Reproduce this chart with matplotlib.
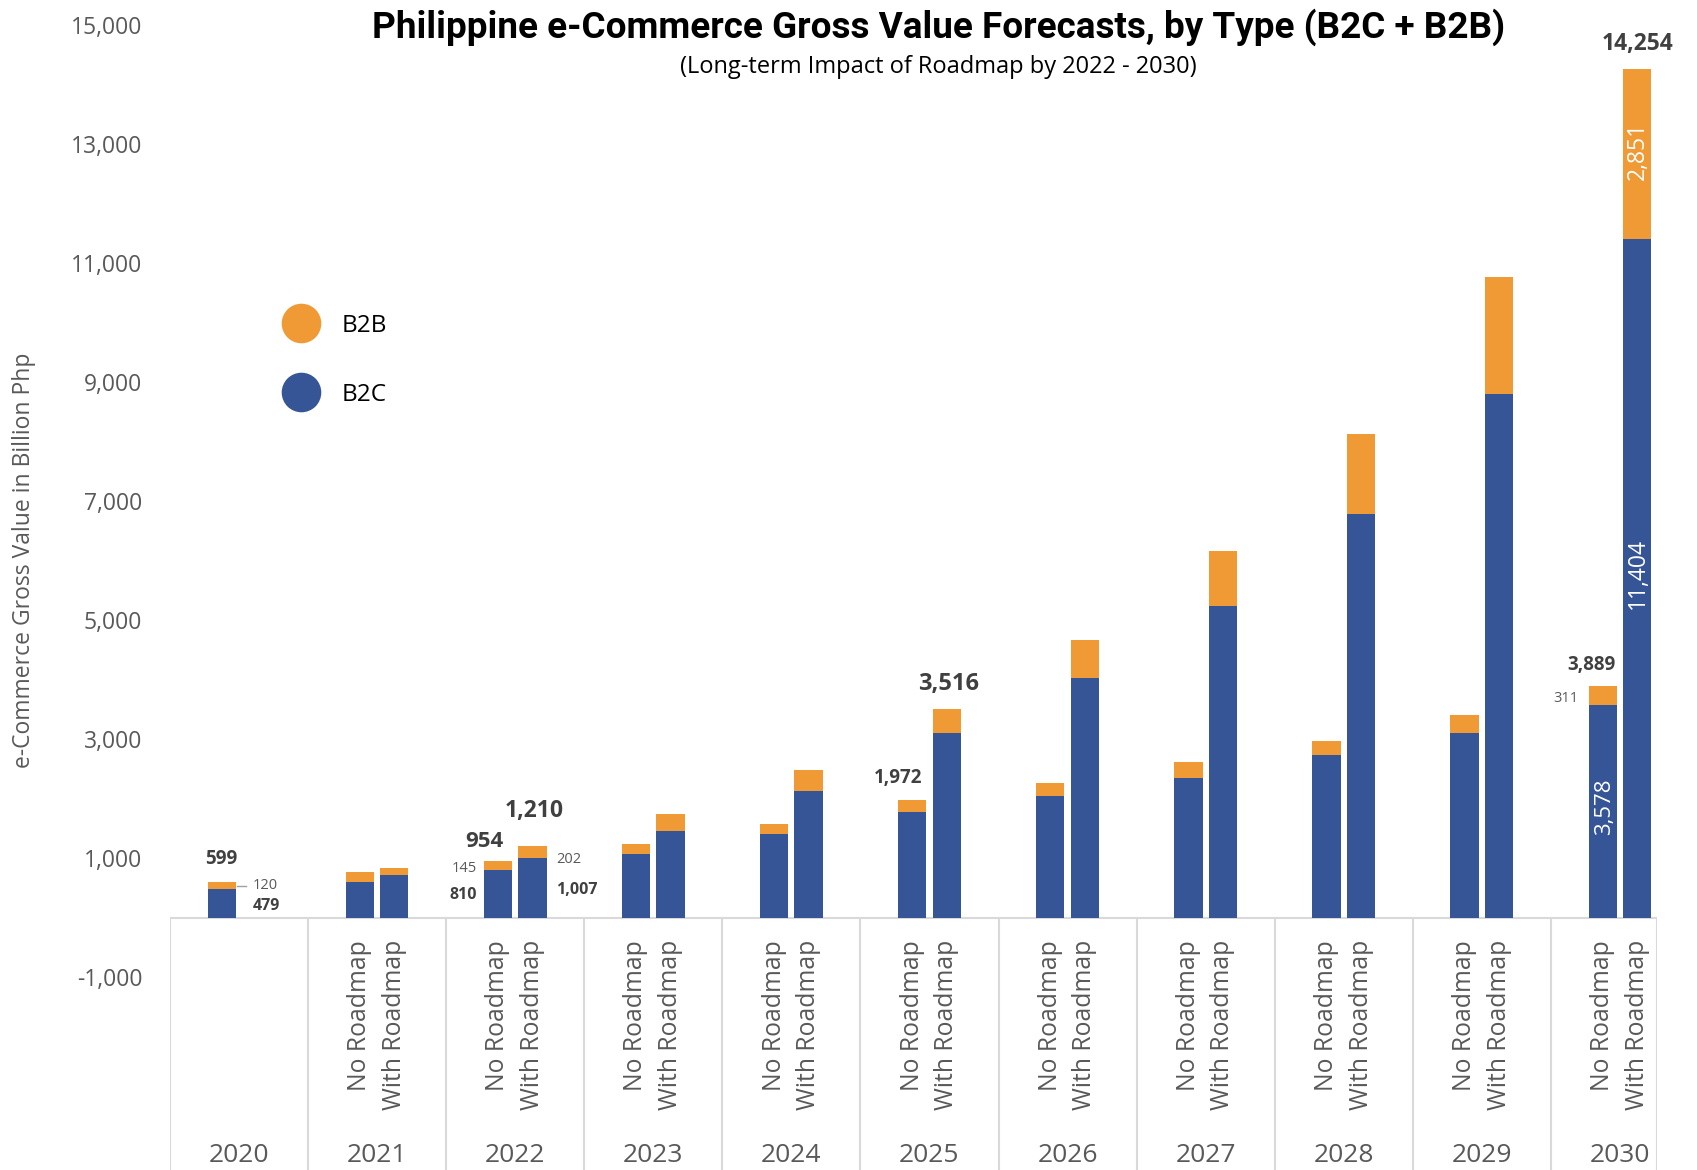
import matplotlib
matplotlib.use("Agg")
import matplotlib.pyplot as plt
from matplotlib.lines import Line2D

years = ["2020", "2021", "2022", "2023", "2024", "2025", "2026", "2027", "2028", "2029", "2030"]
scenarios = ["No Roadmap", "With Roadmap"]
# 2020 has only one (actual) bar
b2c_no = [479, 610, 810, 1075, 1405, 1775, 2040, 2355, 2735, 3100, 3578]
b2b_no = [120, 165, 145, 165, 165, 197, 217, 262, 235, 310, 311]
b2c_with = [None, 720, 1007, 1460, 2135, 3100, 4030, 5240, 6780, 8800, 11404]
b2b_with = [None, 125, 202, 290, 345, 416, 645, 920, 1345, 1965, 2851]
# totals as printed on the chart (rounded in the source)
total_no_printed = {0: 599, 2: 954, 5: 1972, 10: 3889}
total_with_printed = {2: 1210, 5: 3516, 10: 14254}
yticks = list(range(-1000, 15001, 2000))

ORANGE = "#F09A36"
BLUE = "#365597"
GRAY = "#595959"
DARK = "#404040"
LINE = "#D9D9D9"
FONT = "Open Sans"

fig = plt.figure(figsize=(16.97, 11.70), dpi=100)
ax = fig.add_axes([157 / 1568, 0.0, (1531 - 157) / 1568, 1.0])
ax.set_xlim(-0.5, 10.268)
ax.set_ylim(-4236, 15418)
for s in ax.spines.values():
    s.set_visible(False)

off = 0.125
w = 0.205
for i in range(len(years)):
    xn = i - off
    ax.bar(xn, b2c_no[i], width=w, color=BLUE, zorder=3)
    ax.bar(xn, b2b_no[i], width=w, bottom=b2c_no[i], color=ORANGE, zorder=3)
    if b2c_with[i] is not None:
        xw = i + off
        ax.bar(xw, b2c_with[i], width=w, color=BLUE, zorder=3)
        ax.bar(xw, b2b_with[i], width=w, bottom=b2c_with[i], color=ORANGE, zorder=3)

# baseline and category separators
ax.axhline(0, color=LINE, lw=1.5, zorder=2)
ymin = ax.get_ylim()[0]
seps = [k - 0.5 for k in range(len(years))] + [ax.get_xlim()[1]]
ax.vlines(seps, ymin, 0, color=LINE, lw=1.5, zorder=2)

# y ticks
ax.set_yticks(yticks)
ax.set_yticklabels([f"{v:,}" for v in yticks])
ax.tick_params(axis="y", length=0, pad=20, labelsize=16.5, labelcolor=GRAY)
for t in ax.get_yticklabels():
    t.set_fontfamily(FONT)
ax.set_xticks([])

# category labels
for i, y in enumerate(years):
    ax.text(i, -3985, y, ha="center", va="center", fontsize=19, color=GRAY, family=FONT)
    if i > 0:
        ax.text(i - off, -370, scenarios[0], rotation=90, ha="center", va="top",
                fontsize=17.8, color=GRAY, family=FONT)
        ax.text(i + off, -370, scenarios[1], rotation=90, ha="center", va="top",
                fontsize=17.8, color=GRAY, family=FONT)

# y label
ax.text(-1.558, 6000, "e-Commerce Gross Value in Billion Php", rotation=90, ha="center",
        va="center", fontsize=16.5, color=GRAY, family=FONT)

# 2020 annotations
t0 = total_no_printed[0]
ax.text(0 - off, t0 + 390, f"{t0:,}", ha="center", va="center", fontsize=13.5,
        fontweight="bold", color=DARK, family=FONT)
ax.plot([0 - off + w / 2 + 0.01, 0 - off + w / 2 + 0.07], [b2c_no[0] + b2b_no[0] / 2] * 2,
        color="#A0A0A0", lw=1)
ax.text(0.1, b2c_no[0] + b2b_no[0] / 2, f"{b2b_no[0]:,}", ha="left", va="center",
        fontsize=10.5, color=GRAY, family=FONT)
ax.text(0.1, b2c_no[0] - 280, f"{b2c_no[0]:,}", ha="left", va="center",
        fontsize=11.5, fontweight="bold", color=DARK, family=FONT)

# 2022 annotations
i = 2
tn = total_no_printed[i]
tw = total_with_printed[i]
ax.text(i - off - 0.1, tn + 335, f"{tn:,}", ha="center", va="center", fontsize=16,
        fontweight="bold", color=DARK, family=FONT)
ax.text(i - off - w / 2 - 0.05, tn - 120, f"{b2b_no[i]:,}", ha="right", va="center",
        fontsize=10.5, color=GRAY, family=FONT)
ax.text(i - off - w / 2 - 0.05, b2c_no[i] - 430, f"{b2c_no[i]:,}", ha="right", va="center",
        fontsize=11.5, fontweight="bold", color=DARK, family=FONT)
ax.text(i + off + 0.015, tw + 590, f"{tw:,}", ha="center", va="center", fontsize=16.5,
        fontweight="bold", color=DARK, family=FONT)
ax.text(i + off + w / 2 + 0.07, tw - 228, f"{b2b_with[i]:,}", ha="left", va="center",
        fontsize=10.5, color=GRAY, family=FONT)
ax.text(i + off + w / 2 + 0.07, b2c_with[i] - 534, f"{b2c_with[i]:,}", ha="left", va="center",
        fontsize=11.5, fontweight="bold", color=DARK, family=FONT)

# 2025 annotations
i = 5
tn = total_no_printed[i]
tw = total_with_printed[i]
ax.text(i - off - 0.1, tn + 373, f"{tn:,}", ha="center", va="center", fontsize=13.5,
        fontweight="bold", color=DARK, family=FONT)
ax.text(i + off + 0.01, tw + 411, f"{tw:,}", ha="center", va="center", fontsize=17,
        fontweight="bold", color=DARK, family=FONT)

# 2030 annotations
i = 10
tn = total_no_printed[i]
tw = total_with_printed[i]
ax.text(i - off - 0.08, tn + 366, f"{tn:,}", ha="center", va="center", fontsize=13.5,
        fontweight="bold", color=DARK, family=FONT)
ax.text(i - off - w / 2 - 0.07, b2c_no[i] + 112, f"{b2b_no[i]:,}", ha="right", va="center",
        fontsize=10.5, color=GRAY, family=FONT)
ax.text(i - off + 0.01, 1873, f"{b2c_no[i]:,}", rotation=90, ha="center", va="center",
        fontsize=16, color="white", family=FONT, zorder=4)
ax.text(i + off + 0.005, 5782, f"{b2c_with[i]:,}", rotation=90, ha="center", va="center",
        fontsize=16.5, color="white", family=FONT, zorder=4)
ax.text(i + off + 0.005, b2c_with[i] + b2b_with[i] / 2 + 45, f"{b2b_with[i]:,}", rotation=90,
        ha="center", va="center", fontsize=16.5, color="white", family=FONT, zorder=4)
ax.text(i + off, tw + 420, f"{tw:,}", ha="center", va="center", fontsize=16.5,
        fontweight="bold", color=DARK, family=FONT)

# title
fig.text(0.553, 1 - 25 / 1081, "Philippine e-Commerce Gross Value Forecasts, by Type (B2C + B2B)",
         ha="center", va="center", fontsize=26.6, fontweight="bold", color="black", family="Roboto")
fig.text(0.553, 1 - 62 / 1081, "(Long-term Impact of Roadmap by 2022 - 2030)",
         ha="center", va="center", fontsize=17, color="black", family=FONT)

# legend
handles = [Line2D([], [], marker="o", ls="", ms=27.5, color=ORANGE, label="B2B"),
           Line2D([], [], marker="o", ls="", ms=27.5, color=BLUE, label="B2C")]
leg = fig.legend(handles=handles, loc="center left", bbox_to_anchor=(0.159, 1 - 333 / 1081),
                 frameon=False, prop={"family": FONT, "size": 17.5}, labelspacing=1.85,
                 handlelength=1.6, handletextpad=0.85, borderpad=0)

fig.savefig("out.png", dpi=100)
